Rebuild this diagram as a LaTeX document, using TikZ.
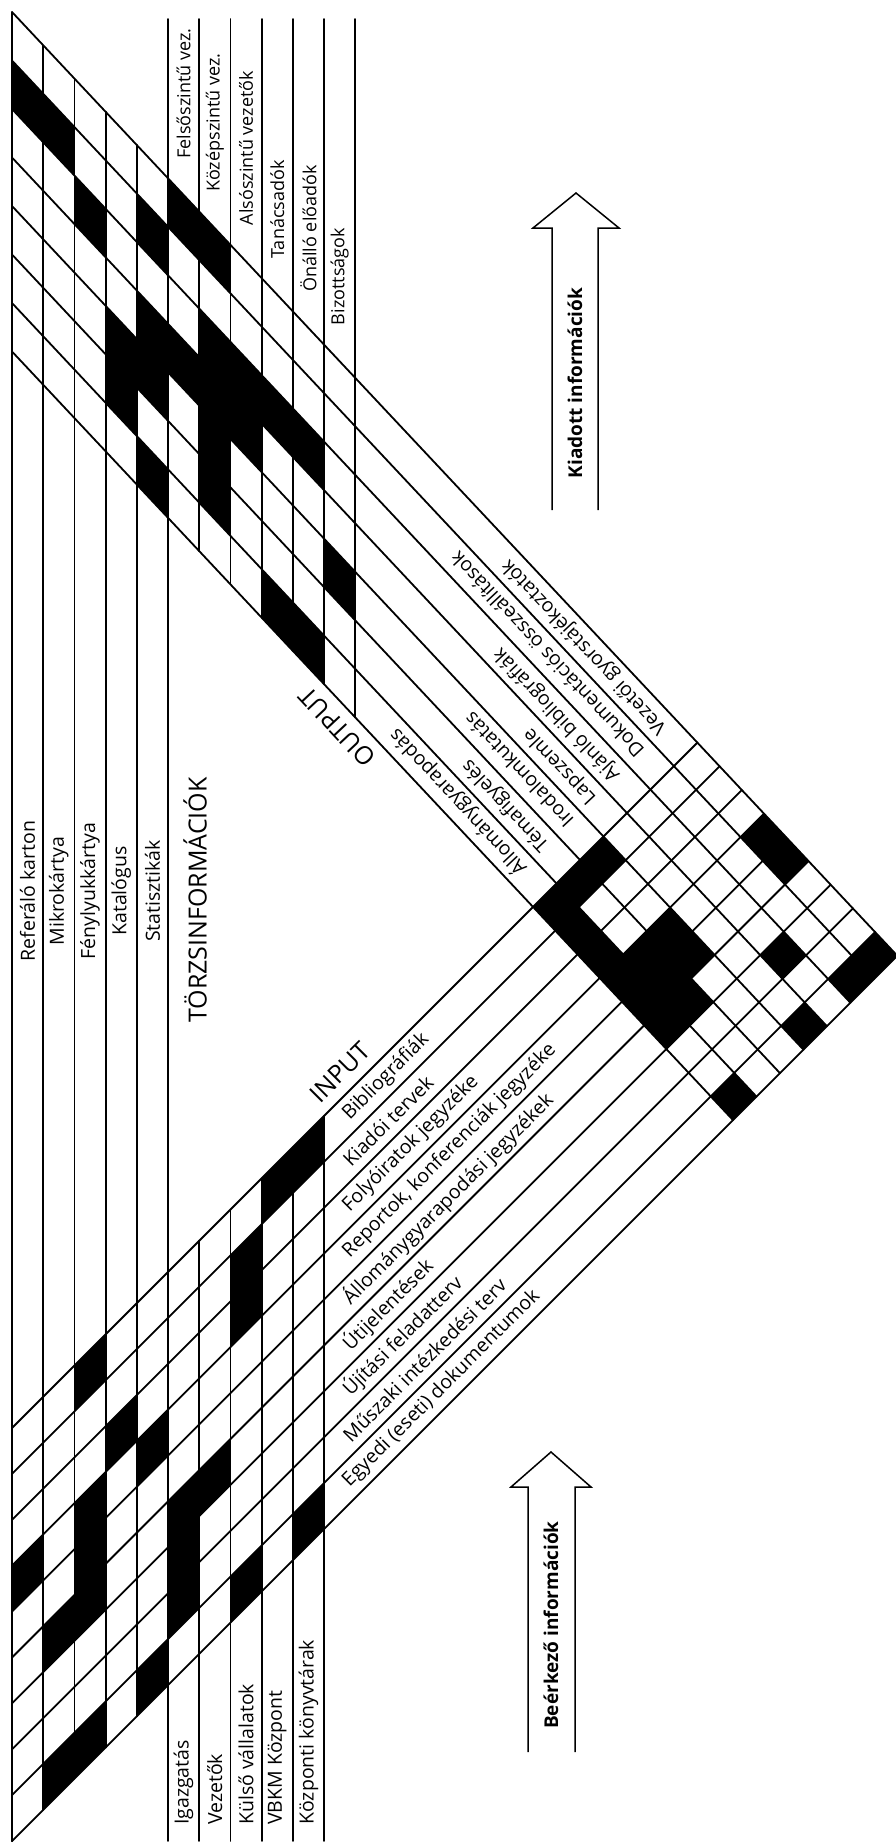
\documentclass[tikz,border=0pt]{standalone}
\usepackage{fontspec}
\setmainfont{Open Sans}
\usetikzlibrary{calc}

\tikzset{
  gridline/.style={line width=1.8pt, line cap=round},
  arrowline/.style={line width=1.5pt, line join=miter},
  cell/.style={fill=black},
  lbl/.style={font=\fontsize{19.5}{23}\selectfont, inner sep=0pt},
  toplbl/.style={font=\fontsize{18}{22}\selectfont, inner sep=0pt},
  headlbl/.style={font=\fontsize{25}{30}\selectfont, inner sep=0pt},
  arrlbl/.style={font=\bfseries\fontsize{19}{23}\selectfont, inner sep=0pt},
  declare function={
    colx(\c)=12+31.2*\c;
    upy(\c,\r)=12+48.5*\r+33.26*\c;
    lowy(\c,\k)=1428+45.9*\k-31.2*\c;
    dgx(\k,\r)=697.38+22.217*\k-23.475*\r;
    dgy(\k,\r)=742.62+23.683*\k+23.475*\r;
    uprowx(\r)=12+(1416-48.5*\r)/2.066;
  }
}

\begin{document}
\begin{tikzpicture}[x=1pt,y=-1pt]
\useasboundingbox (0,0) rectangle (895,1845);

% black cells of the output arm
\begin{scope}[shift={(12,12)}, x={(31.2pt,-33.26pt)}, y={(0pt,-48.5pt)}]
  \foreach \c/\r in {0/1,1/1,2/2,3/4,3/5,4/1,4/3,4/4,4/6,5/0,5/3,
                     6/0,6/2,6/3,6/4,6/5,7/2,7/3,8/2,8/6,9/2,9/6,10/4}
    \fill[cell] (\c,\r) -- ++(1,0) -- ++(0,1) -- ++(-1,0) -- cycle;
\end{scope}

% black cells of the input arm
\begin{scope}[shift={(12,1428)}, x={(31.2pt,31.2pt)}, y={(0pt,-45.9pt)}]
  \foreach \c/\k in {0/3,1/5,1/8,2/0,2/3,2/4,2/5,2/8,3/2,4/3,4/8,
                     5/5,5/6,5/7,6/5,7/1,7/2,7/8,8/0,9/0,9/8}
    \fill[cell] (\c,\k) -- ++(1,0) -- ++(0,1) -- ++(-1,0) -- cycle;
\end{scope}

% black cells of the crossing
\begin{scope}[shift={(697.38,742.62)}, x={(22.217pt,-23.683pt)}, y={(-23.475pt,-23.475pt)}]
  \foreach \k/\r in {0/4,0/5,0/6,1/6,2/6,3/6,4/6,5/6,3/5,4/5,5/5,3/4,4/4,
                     3/0,4/0,8/0,8/1,6/2,8/3,8/6}
    \fill[cell] (\k,\r) -- ++(1,0) -- ++(0,1) -- ++(-1,0) -- cycle;
\end{scope}

% oblique lines
\foreach \r in {0,...,7}
  \draw[gridline] (12,{upy(0,\r)}) -- ({dgx(9,\r)},{dgy(9,\r)});
\foreach \k in {0,...,9}
  \draw[gridline] (12,{lowy(0,\k)}) -- ({dgx(\k,0)},{dgy(\k,0)});

% vertical lines
\draw[gridline] (12,12) -- (12,{lowy(0,9)});
\foreach \c in {1,...,4}
  \draw[gridline] ({colx(\c)},{upy(\c,0)}) -- ({colx(\c)},{lowy(\c,9)});
\draw[gridline] ({colx(5)},19) -- ({colx(5)},1841);
\foreach \c in {6,...,11}
  \draw[gridline] ({colx(\c)},19) -- ({colx(\c)},{upy(\c,7)});
\foreach \c in {6,...,10}
  \draw[gridline] ({colx(\c)},{lowy(\c,0)}) -- ({colx(\c)},1841);

% column labels
\foreach \c/\t in {5/Felsőszintű vez., 6/Középszintű vez., 7/Alsószintű vezetők,
                   8/Tanácsadók, 9/Önálló előadók, 10/Bizottságok}
  \node[toplbl, rotate=90, anchor=west] (out\c) at ({colx(\c+0.5)},{upy(\c+0.5,0)-36}) {\t};
\foreach \c/\t in {0/Referáló karton, 1/Mikrokártya, 2/Fénylyukkártya,
                   3/Katalógus, 4/Statisztikák}
  \node[lbl, rotate=90] (base\c) at ({colx(\c+0.5)},891) {\t};
\foreach \c/\t in {5/Igazgatás, 6/Vezetők, 7/Külső vállalatok,
                   8/VBKM Központ, 9/Központi könyvtárak}
  \node[lbl, rotate=90, anchor=west] (src\c) at ({colx(\c+0.5)},1825) {\t};

% row labels
\foreach \r/\t in {0/Vezetői gyorstájékoztatók, 1/Dokumentációs összeállítások,
                   2/Ajánló bibliográfiák, 3/Lapszemle, 4/Irodalomkutatás,
                   5/Témafigyelés, 6/Állománygyarapodás}
  \node[lbl, rotate=133.17, anchor=west] (prod\r)
    at ({uprowx(\r+0.5)-22},{upy((uprowx(\r+0.5)-22-12)/31.2,\r+0.5)}) {\t};
\foreach \k/\t in {0/Bibliográfiák, 1/Kiadói tervek, 2/Folyóiratok jegyzéke,
                   3/{Reportok, konferenciák jegyzéke}, 4/Állománygyarapodási jegyzékek,
                   5/Útijelentések, 6/Újítási feladatterv, 7/Műszaki intézkedési terv,
                   8/Egyedi (eseti) dokumentumok}
  \node[lbl, rotate=45, anchor=west] (doc\k) at (346,{lowy((346-12)/31.2,\k+0.5)}) {\t};

\node[headlbl, rotate=90] (torzs) at (195,900) {TÖRZSINFORMÁCIÓK};
\node[headlbl, rotate=45] (input) at (340,1072) {INPUT};
\node[headlbl, rotate=133.17] (output) at (337,727) {OUTPUT};

% flow arrows
\draw[arrowline] (552,510) -- (552,228) -- (533,228) -- (576,193) -- (619,228)
  -- (598,228) -- (598,510);
\node[arrlbl, rotate=90] (kiadott) at (575,383) {Kiadott információk};
\draw[arrowline] (528,1752) -- (528,1487) -- (511,1487) -- (551,1452) -- (591,1487)
  -- (575,1487) -- (575,1752);
\node[arrlbl, rotate=90] (beerkezo) at (551,1625) {Beérkező információk};
\end{tikzpicture}
\end{document}
